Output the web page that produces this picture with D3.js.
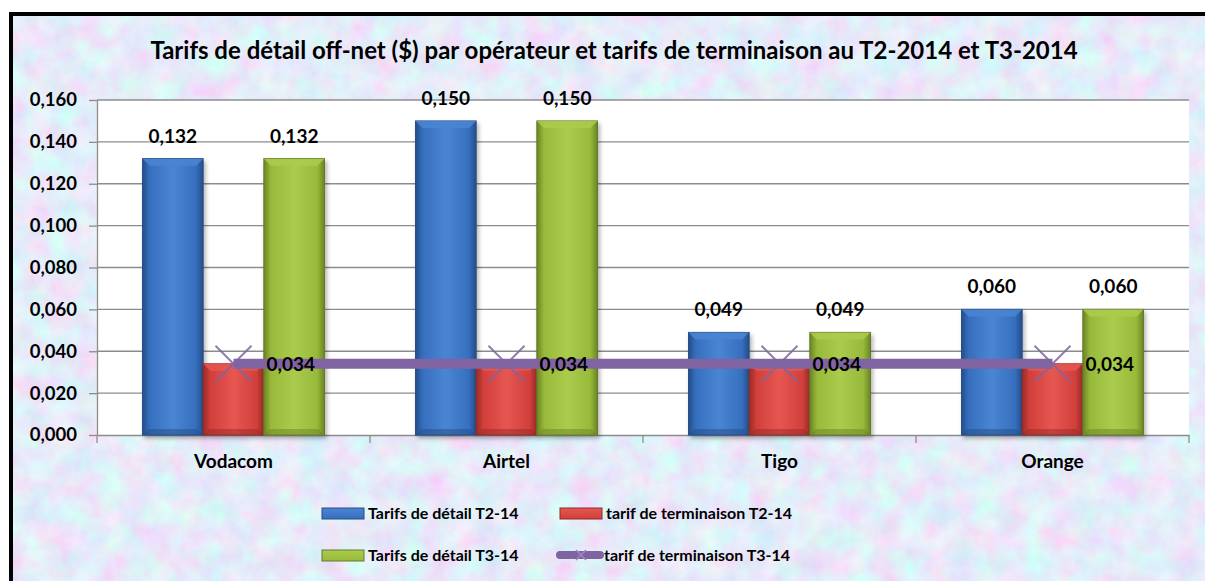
<!DOCTYPE html>
<html>
<head>
<meta charset="utf-8">
<script src="https://cdn.jsdelivr.net/npm/d3@7"></script>
<style>
    html, body { margin: 0; padding: 0; background: #fff; overflow: hidden; }
    svg { display: block; }
    svg text { font-family: Lato, "Open Sans", sans-serif; font-weight: bold; fill: #000; }
</style>
</head>
<body>
<div id="chart"></div>
<script>

// chart data
const categories = ["Vodacom", "Airtel", "Tigo", "Orange"];
const seriesNames = ["Tarifs de détail T2-14", "tarif de terminaison T2-14", "Tarifs de détail T3-14", "tarif de terminaison T3-14"];
const detailT2 = [0.132, 0.150, 0.049, 0.060];
const terminaisonT2 = [0.034, 0.034, 0.034, 0.034];
const detailT3 = [0.132, 0.150, 0.049, 0.060];
const terminaisonT3 = [0.034, 0.034, 0.034, 0.034];
const yTicks = [0, 0.02, 0.04, 0.06, 0.08, 0.10, 0.12, 0.14, 0.16];
const chartTitle = "Tarifs de détail off-net ($) par opérateur et tarifs de terminaison au T2-2014 et T3-2014";


class BarLineVis {

    constructor(parentElement) {
        this.parentElement = parentElement;
        this.barSeries = [
            {name: seriesNames[0], values: detailT2, key: "blue"},
            {name: seriesNames[1], values: terminaisonT2, key: "red"},
            {name: seriesNames[2], values: detailT3, key: "green"}
        ];
        this.colors = {
            blue: {light: "#4a85d3", mid: "#366fbe", dark: "#234e8a", stroke: "#2a4f82"},
            red: {light: "#e65752", mid: "#d13f3a", dark: "#9a2a27", stroke: "#8e2b28"},
            green: {light: "#aacb4c", mid: "#98ba3a", dark: "#6b8424", stroke: "#667a2c"}
        };
        this.lineColor = "#8064a2";
        this.bgColor = "#cdd6f3";
        this.initVis();
    }

    initVis() {
        let vis = this;

        vis.width = 1205;
        vis.height = 581;
        vis.plot = {left: 97, right: 1189, top: 100, bottom: 435};

        vis.svg = d3.select("#" + vis.parentElement).append("svg")
            .attr("width", vis.width)
            .attr("height", vis.height);

        vis.defs = vis.svg.append("defs");

        // pastel textured background
        let tex = vis.defs.append("filter").attr("id", "texture")
            .attr("filterUnits", "userSpaceOnUse")
            .attr("x", 11).attr("y", 14).attr("width", vis.width - 11).attr("height", vis.height - 14);
        tex.append("feTurbulence")
            .attr("type", "fractalNoise")
            .attr("baseFrequency", "0.04")
            .attr("numOctaves", 4)
            .attr("seed", 11)
            .attr("result", "noise");
        tex.append("feColorMatrix")
            .attr("in", "noise")
            .attr("type", "matrix")
            .attr("values", "0.45 0 0 0 0.56  -0.3 0.35 0 0 0.81  0 0 0.15 0 0.87  0 0 0 0 1");

        // bar gradients
        Object.entries(vis.colors).forEach(([k, c]) => {
            let g = vis.defs.append("linearGradient").attr("id", "grad-" + k)
                .attr("x1", "0%").attr("x2", "100%");
            g.append("stop").attr("offset", "0%").attr("stop-color", c.dark);
            g.append("stop").attr("offset", "12%").attr("stop-color", c.mid);
            g.append("stop").attr("offset", "50%").attr("stop-color", c.light);
            g.append("stop").attr("offset", "88%").attr("stop-color", c.mid);
            g.append("stop").attr("offset", "100%").attr("stop-color", c.dark);

            let v = vis.defs.append("linearGradient").attr("id", "vgrad-" + k)
                .attr("x1", "0%").attr("x2", "0%").attr("y1", "0%").attr("y2", "100%");
            v.append("stop").attr("offset", "0%").attr("stop-color", c.light);
            v.append("stop").attr("offset", "100%").attr("stop-color", c.mid);
        });

        let shadow = vis.defs.append("filter").attr("id", "shadow")
            .attr("x", "-20%").attr("y", "-20%").attr("width", "140%").attr("height", "140%");
        shadow.append("feDropShadow")
            .attr("dx", 2).attr("dy", 3).attr("stdDeviation", 2)
            .attr("flood-color", "#000").attr("flood-opacity", 0.3);

        // background + frame
        vis.svg.append("rect")
            .attr("x", 11).attr("y", 14)
            .attr("width", vis.width - 11).attr("height", vis.height - 14)
            .attr("fill", vis.bgColor);
        vis.svg.append("rect")
            .attr("x", 11).attr("y", 14)
            .attr("width", vis.width - 11).attr("height", vis.height - 14)
            .attr("fill", vis.bgColor)
            .attr("filter", "url(#texture)");
        vis.svg.append("path")
            .attr("d", `M${vis.width + 10},14 L11,14 L11,${vis.height + 10}`)
            .attr("fill", "none")
            .attr("stroke", "#000")
            .attr("stroke-width", 4);

        // title
        vis.svg.append("text")
            .attr("x", 614).attr("y", 59)
            .attr("text-anchor", "middle")
            .style("font-size", "24px")
            .text(chartTitle);

        // scales
        vis.x = d3.scaleBand()
            .domain(categories)
            .range([vis.plot.left, vis.plot.right])
            .padding(0);

        vis.xSub = d3.scaleBand()
            .domain(d3.range(vis.barSeries.length))
            .range([0, vis.x.bandwidth()])
            .paddingInner(0)
            .paddingOuter(0.75);

        vis.y = d3.scaleLinear()
            .domain([0, 0.16])
            .range([vis.plot.bottom, vis.plot.top]);

        vis.fmt = d => d3.format(".3f")(d).replace(".", ",");

        // plot area
        vis.svg.append("rect")
            .attr("x", vis.plot.left).attr("y", vis.plot.top)
            .attr("width", vis.plot.right - vis.plot.left)
            .attr("height", vis.plot.bottom - vis.plot.top)
            .attr("fill", "#fff");

        // gridlines
        vis.svg.append("g")
            .attr("class", "grid")
            .selectAll("line")
            .data(yTicks.filter(d => d > 0))
            .enter().append("line")
                .attr("x1", vis.plot.left).attr("x2", vis.plot.right)
                .attr("y1", d => vis.y(d)).attr("y2", d => vis.y(d))
                .attr("stroke", "#8c8c8c")
                .attr("stroke-width", 1.3);

        // y axis
        let yAxis = vis.svg.append("g")
            .attr("transform", `translate(${vis.plot.left}, 0)`)
            .call(d3.axisLeft(vis.y).tickValues(yTicks).tickFormat(vis.fmt).tickSize(8).tickSizeOuter(0));
        yAxis.selectAll("text").style("font-size", "18.5px").attr("dx", -9).attr("font-family", null);
        yAxis.selectAll("line, path").attr("stroke", "#8c8c8c").attr("stroke-width", 1.3);

        // x axis
        let xAxis = vis.svg.append("g")
            .attr("transform", `translate(0, ${vis.plot.bottom})`)
            .call(d3.axisBottom(vis.x).tickSize(0).tickSizeOuter(0));
        xAxis.selectAll("text").style("font-size", "19px").attr("dy", 30).attr("font-family", null);
        xAxis.select("path").attr("stroke", "#8c8c8c").attr("stroke-width", 1.3);
        xAxis.selectAll(".sep")
            .data(categories.map(c => vis.x(c)).concat([vis.plot.right]))
            .enter().append("line")
                .attr("class", "sep")
                .attr("x1", d => d).attr("x2", d => d)
                .attr("y1", 0).attr("y2", 8)
                .attr("stroke", "#8c8c8c")
                .attr("stroke-width", 1.3);

        vis.updateVis();
    }

    updateVis() {
        let vis = this;

        // bars
        vis.barSeries.forEach((s, si) => {
            let c = vis.colors[s.key];
            let g = vis.svg.append("g").attr("class", "series-" + si);

            let bars = g.selectAll(".bar")
                .data(s.values.map((v, i) => ({cat: categories[i], value: v})))
                .enter().append("g")
                .attr("class", "bar")
                .attr("transform", d => `translate(${vis.x(d.cat) + vis.xSub(si)}, ${vis.y(d.value)})`);

            bars.append("rect")
                .attr("width", vis.xSub.bandwidth())
                .attr("height", d => vis.y(0) - vis.y(d.value))
                .attr("fill", `url(#grad-${s.key})`)
                .attr("stroke", c.stroke)
                .attr("stroke-width", 1)
                .attr("filter", "url(#shadow)");

            // bevel top
            bars.append("path")
                .attr("d", () => {
                    let w = vis.xSub.bandwidth();
                    return `M0,0 L${w},0 L${w - 7},7 L7,7 Z`;
                })
                .attr("fill", c.light)
                .attr("opacity", 0.85);

            // bevel bottom
            bars.append("path")
                .attr("d", d => {
                    let w = vis.xSub.bandwidth();
                    let h = vis.y(0) - vis.y(d.value);
                    return `M0,${h} L${w},${h} L${w - 6},${h - 6} L6,${h - 6} Z`;
                })
                .attr("fill", c.dark)
                .attr("opacity", 0.5);

            // labels above blue and green bars
            if (s.key !== "red") {
                g.selectAll(".lbl")
                    .data(s.values.map((v, i) => ({cat: categories[i], value: v})))
                    .enter().append("text")
                        .attr("class", "lbl")
                        .attr("x", d => vis.x(d.cat) + vis.xSub(si) + vis.xSub.bandwidth() / 2)
                        .attr("y", d => vis.y(d.value) - 16)
                        .attr("text-anchor", "middle")
                        .style("font-size", "19px")
                        .text(d => vis.fmt(d.value));
            }
        });

        // line series
        let lineData = terminaisonT3.map((v, i) => ({cat: categories[i], value: v}));
        let cx = d => vis.x(d.cat) + vis.x.bandwidth() / 2;

        vis.svg.append("path")
            .datum(lineData)
            .attr("d", d3.line().x(cx).y(d => vis.y(d.value)))
            .attr("fill", "none")
            .attr("stroke", vis.lineColor)
            .attr("stroke-width", 10);

        let markers = vis.svg.selectAll(".marker")
            .data(lineData)
            .enter().append("g")
            .attr("class", "marker")
            .attr("transform", d => `translate(${cx(d)}, ${vis.y(d.value)})`);
        markers.append("path")
            .attr("d", "M-18,-18 L18,18 M-18,18 L18,-18")
            .attr("stroke", vis.lineColor)
            .attr("stroke-width", 2)
            .attr("opacity", 0.85);

        vis.svg.selectAll(".line-lbl")
            .data(lineData)
            .enter().append("text")
                .attr("class", "line-lbl")
                .attr("x", d => cx(d) + 33)
                .attr("y", d => vis.y(d.value))
                .attr("dy", "0.36em")
                .style("font-size", "19px")
                .text(d => vis.fmt(d.value));

        // legend
        let legendItems = [
            {name: seriesNames[0], type: "bar", key: "blue", x: 322, y: 513},
            {name: seriesNames[1], type: "bar", key: "red", x: 560, y: 513},
            {name: seriesNames[2], type: "bar", key: "green", x: 322, y: 555},
            {name: seriesNames[3], type: "line", x: 557, y: 555}
        ];

        let legend = vis.svg.append("g").attr("class", "legend");
        let items = legend.selectAll(".item")
            .data(legendItems)
            .enter().append("g")
            .attr("class", "item")
            .attr("transform", d => `translate(${d.x}, ${d.y})`);

        items.filter(d => d.type === "bar").append("rect")
            .attr("x", 0).attr("y", -5)
            .attr("width", 42).attr("height", 11)
            .attr("fill", d => `url(#vgrad-${d.key})`)
            .attr("stroke", d => vis.colors[d.key].stroke)
            .attr("stroke-width", 1);

        let lineItem = items.filter(d => d.type === "line");
        lineItem.append("line")
            .attr("x1", 3).attr("x2", 43)
            .attr("y1", 0).attr("y2", 0)
            .attr("stroke", vis.lineColor)
            .attr("stroke-width", 8)
            .attr("stroke-linecap", "round");
        lineItem.append("path")
            .attr("d", "M19,-5 L29,5 M19,5 L29,-5")
            .attr("stroke", "#9c86bb")
            .attr("stroke-width", 1.5);

        items.append("text")
            .attr("x", d => d.type === "line" ? 47 : 46)
            .attr("y", 0)
            .attr("dy", "0.36em")
            .style("font-size", "16px")
            .text(d => d.name);
    }
}

new BarLineVis("chart");

</script>
</body>
</html>
